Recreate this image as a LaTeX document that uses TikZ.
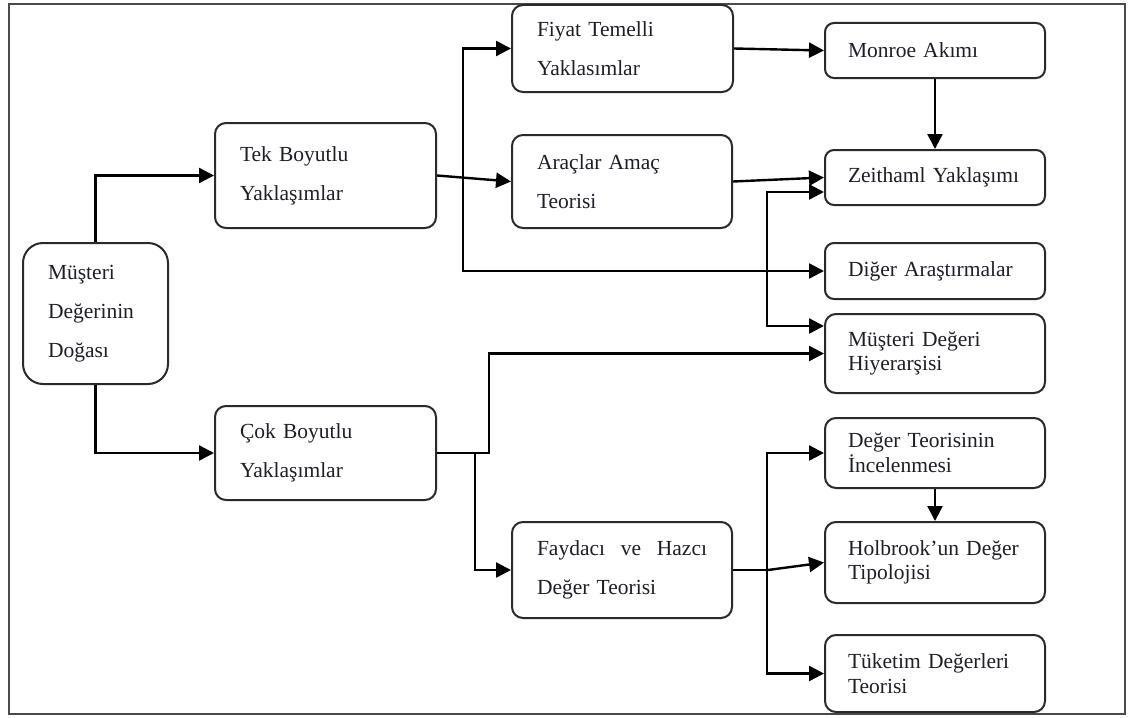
\documentclass[tikz,border=0pt]{standalone}
\usepackage{fontspec}
\setmainfont{Liberation Serif}
\usetikzlibrary{arrows.meta}
\definecolor{boxc}{HTML}{2A2A2A}
\definecolor{txtc}{HTML}{1E1E28}
\definecolor{framec}{HTML}{4A4A4A}
\begin{document}
\begin{tikzpicture}[x=1pt,y=-1pt,
  bx/.style={draw=boxc, line width=2pt, rounded corners=11pt, inner xsep=25pt, inner ysep=0pt,
    align=left, text=txtc, text width=170pt, minimum width=220pt},
  sgl/.style={font=\fontsize{21.5}{24.5}\selectfont},
  dbl/.style={font=\fontsize{21.5}{39}\selectfont},
  arr/.style={line width=2.4pt, draw=black, -{Triangle[length=15pt,width=15pt]}},
  arrtwo/.style={line width=2.4pt, draw=black, {Triangle[length=15pt,width=15pt]}-{Triangle[length=15pt,width=15pt]}},
  ln/.style={line width=2.4pt, draw=black}
]
\useasboundingbox (0,0) rectangle (1131,717);
\fill[white] (0,0) rectangle (1131,717);
\draw[framec, line width=2.5pt] (9,4) rectangle (1125,714);

% nodes
\node[bx, dbl, rounded corners=20pt, text width=95pt, minimum width=145pt, minimum height=141pt] (must) at (95.5,313.5) {Müşteri\\Değerinin\\Doğası};
\node[bx, dbl, minimum width=221pt, text width=171pt, minimum height=105pt] (tek) at (325.5,175.5) {Tek Boyutlu\\Yaklaşımlar};
\node[bx, dbl, minimum width=221pt, text width=171pt, minimum height=94pt] (cok) at (325.5,453) {Çok Boyutlu\\Yaklaşımlar};
\node[bx, dbl, minimum width=221pt, text width=171pt, minimum height=87pt] (fiyat) at (622.5,48.5) {Fiyat Temelli\\Yaklasımlar};
\node[bx, dbl, minimum height=93pt] (arac) at (622,181.5) {Araçlar Amaç\\Teorisi};
\node[bx, dbl, minimum height=96pt] (fayd) at (622,570) {Faydacı\hfill ve\hfill Hazcı\\Değer Teorisi};

\node[bx, sgl, rounded corners=9pt, inner xsep=23pt, text width=174pt, minimum height=55pt] (monroe) at (935,50.5) {Monroe Akımı};
\node[bx, sgl, rounded corners=9pt, inner xsep=23pt, text width=174pt, minimum height=55pt] (zeit) at (935,177.5) {Zeithaml Yaklaşımı};
\node[bx, sgl, rounded corners=9pt, inner xsep=23pt, text width=174pt, minimum height=56pt] (diger) at (935,271) {Diğer Araştırmalar};
\node[bx, sgl, rounded corners=11pt, inner xsep=23pt, text width=174pt, minimum height=79pt] (mdh) at (935,353.5) {Müşteri Değeri\\Hiyerarşisi};
\node[bx, sgl, rounded corners=11pt, inner xsep=23pt, text width=174pt, minimum height=70pt] (dti) at (935,453) {Değer Teorisinin\\İncelenmesi};
\node[bx, sgl, rounded corners=11pt, inner xsep=23pt, text width=174pt, minimum height=81pt] (holb) at (935,562.5) {Holbrook’un Değer\\Tipolojisi};
\node[bx, sgl, rounded corners=11pt, inner xsep=23pt, text width=174pt, minimum height=77pt] (tuk) at (935,673.5) {Tüketim Değerleri\\Teorisi};

% helper coordinates
\coordinate (b1) at (463,160);
\coordinate (b2) at (767,260);
\coordinate (b3) at (767,560);
\coordinate (c1) at (489,400);
\coordinate (c2) at ([xshift=38pt]cok.east);
\coordinate (f1) at ([xshift=35pt]fayd.east);

% connectors
\draw[arr] (must.north) |- (tek.west);
\draw[arr] (must.south) |- (cok.west);
\draw[arr] (tek.east) -- (arac.west);
\draw[arrtwo] (fiyat.west) -| (b1) |- (diger.west);
\draw[arr] (fiyat.east) -- (monroe.west);
\draw[arr] (monroe.south) -- (zeit.north);
\draw[arr] (arac.east) -- (zeit.west);
\draw[arrtwo] ([yshift=-14.5pt]zeit.west) -| (b2) |- ([yshift=27.5pt]mdh.west);
\draw[arr] (cok.east) -| (c1) |- (mdh.west);
\draw[arr] (c2) |- (fayd.west);
\draw[ln] (fayd.east) -- (f1);
\draw[arr] (f1) -- (holb.west);
\draw[arrtwo] (dti.west) -| (b3) |- (tuk.west);
\draw[arr] (dti.south) -- (holb.north);
\end{tikzpicture}
\end{document}
